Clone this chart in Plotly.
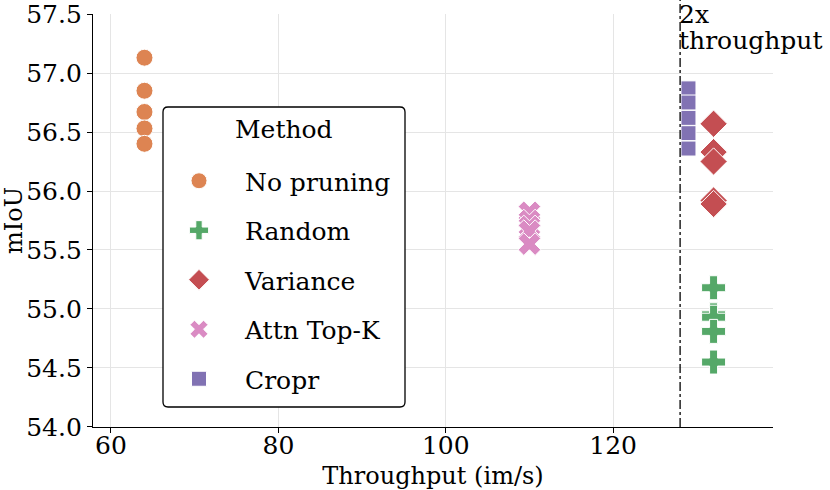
import plotly.graph_objects as go

methods = ["No pruning", "Random", "Variance", "Attn Top-K", "Cropr"]
throughput = {"No pruning": 64, "Random": 132, "Variance": 132, "Attn Top-K": 110, "Cropr": 129}
miou = {
    "No pruning": [57.13, 56.85, 56.67, 56.53, 56.40],
    "Random": [55.18, 54.95, 54.93, 54.81, 54.55],
    "Variance": [56.57, 56.33, 56.25, 55.92, 55.89],
    "Attn Top-K": [55.82, 55.75, 55.70, 55.66, 55.55],
    "Cropr": [56.87, 56.75, 56.62, 56.49, 56.36],
}
colors = {"No pruning": "#dd8452", "Random": "#55a868", "Variance": "#c44e52",
          "Attn Top-K": "#da8bc3", "Cropr": "#8172b3"}
symbols = {"No pruning": "circle", "Random": "cross", "Variance": "diamond",
           "Attn Top-K": "x", "Cropr": "square"}
sizes = {"No pruning": 17, "Random": 20, "Variance": 21, "Attn Top-K": 20, "Cropr": 15}
x_ticks = [60, 80, 100, 120]
y_ticks = [54.0, 54.5, 55.0, 55.5, 56.0, 56.5, 57.0, 57.5]
line_x = 128
line_label = ["2x", "throughput"]

FONT = "DejaVu Serif"
fig = go.Figure()
for i, m in enumerate(methods):
    fig.add_trace(go.Scatter(
        x=[throughput[m]] * len(miou[m]), y=miou[m], mode="markers", name=m,
        legendgroup=m,
        marker=dict(color=colors[m], symbol=symbols[m], size=sizes[m],
                    line=dict(color="white", width=1)),
    ))

pl, pt, pw, ph = 93, 14, 680, 413
def px(x):
    return (x - pl) / pw
def py(y):
    return 1 - (y - pt) / ph

fig.add_shape(type="line", x0=line_x, x1=line_x, xref="x", yref="paper", y0=0, y1=py(0),
              line=dict(color="black", width=1.3, dash="dashdot"))
for txt, yy in zip(line_label, [14, 40]):
    fig.add_annotation(x=line_x, xref="x", yref="paper", y=py(yy), xanchor="left",
                       yanchor="middle", text=txt, showarrow=False, align="left",
                       font=dict(family=FONT, size=25, color="black"), xshift=-3)

# rounded legend frame
L, R = 163, 405
T, B = 107, 407
r = 5
path = (f"M {px(L+r)} {py(T)} L {px(R-r)} {py(T)} Q {px(R)} {py(T)} {px(R)} {py(T+r)} "
        f"L {px(R)} {py(B-r)} Q {px(R)} {py(B)} {px(R-r)} {py(B)} "
        f"L {px(L+r)} {py(B)} Q {px(L)} {py(B)} {px(L)} {py(B-r)} "
        f"L {px(L)} {py(T+r)} Q {px(L)} {py(T)} {px(L+r)} {py(T)} Z")
fig.add_shape(type="path", path=path, xref="paper", yref="paper",
              line=dict(color="black", width=1.3), fillcolor="white", layer="above")
fig.add_annotation(x=px((L + R) / 2), y=py(129), xref="paper", yref="paper",
                   xanchor="center", yanchor="middle", text="Method", showarrow=False,
                   font=dict(family=FONT, size=25, color="black"))

fig.update_layout(
    width=830, height=490,
    margin=dict(l=pl, r=830 - pl - pw, t=pt, b=490 - pt - ph),
    paper_bgcolor="white", plot_bgcolor="white",
    font=dict(family=FONT, size=25, color="black"),
    showlegend=True,
    legend=dict(
        x=px(153), y=py(158), xanchor="left", yanchor="top",
        bgcolor="rgba(0,0,0,0)", borderwidth=0,
        font=dict(family=FONT, size=25), tracegroupgap=14, itemwidth=82,
    ),
    xaxis=dict(range=[57.85, 139.1], tickvals=x_ticks, showgrid=True, gridcolor="#e5e5e5",
               gridwidth=1, zeroline=False, showline=True, linecolor="black", linewidth=1.3,
               ticks="outside", ticklen=5, tickwidth=1.3, tickcolor="black",
               automargin=False, ticklabelstandoff=-9,
               title=dict(text="Throughput (im/s)", font=dict(family=FONT, size=24)),
               tickfont=dict(family=FONT, size=25)),
    yaxis=dict(range=[53.9995, 57.5005], tickvals=y_ticks, ticktext=[f"{v:.1f}" for v in y_ticks],
               showgrid=True, gridcolor="#e5e5e5", gridwidth=1, zeroline=False,
               showline=True, linecolor="black", linewidth=1.3,
               ticks="outside", ticklen=5, tickwidth=1.3, tickcolor="black",
               automargin=False, ticklabeloverflow="allow",
               title=dict(text="mIoU", font=dict(family=FONT, size=24)),
               tickfont=dict(family=FONT, size=25)),
)
fig.write_html("out.html", config={"displayModeBar": False},
               post_script="document.body.style.margin='0';document.body.style.overflow='hidden';")
